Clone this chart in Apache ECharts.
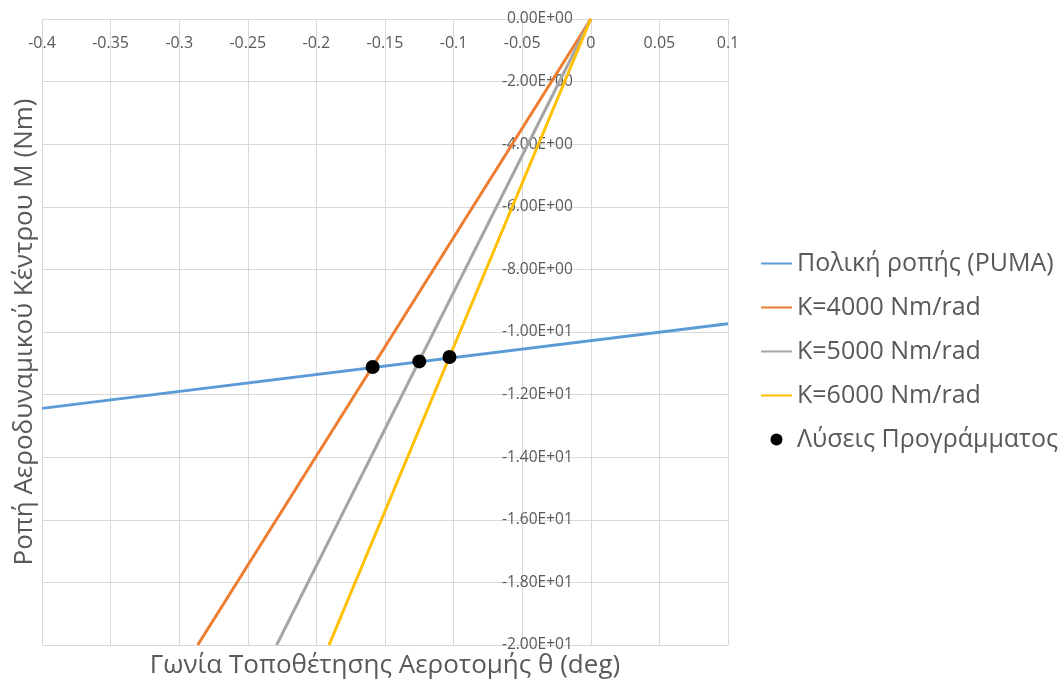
<!DOCTYPE html>
<html>
<head>
<meta charset="utf-8">
<script src="https://cdn.jsdelivr.net/npm/echarts@6/dist/echarts.min.js"></script>
<style>
html,body{margin:0;padding:0;background:#fff;}
#chart{width:1064px;height:681px;}
</style>
</head>
<body>
<div id="chart"></div>
<script>
// Data
const seriesNames = ['Πολική ροπής (PUMA)', 'K=4000 Nm/rad', 'K=5000 Nm/rad', 'K=6000 Nm/rad', 'Λύσεις Προγράμματος'];
const pumaX = [-0.4, 0.1];
const pumaY = [-12.44, -9.74];
const k4000X = [-0.2865, 0];
const k4000Y = [-20, 0];
const k5000X = [-0.2290, 0];
const k5000Y = [-20, 0];
const k6000X = [-0.1908, 0];
const k6000Y = [-20, 0];
const solX = [-0.159, -0.125, -0.103];
const solY = [-11.12, -10.94, -10.80];
const xTitle = 'Γωνία Τοποθέτησης Αεροτομής θ (deg)';
const yTitle = 'Ροπή Αεροδυναμικού Κέντρου Μ (Nm)';

const zip = (xs, ys) => xs.map((x, i) => [x, ys[i]]);
const colors = ['#5B9BD5', '#ED7D31', '#A5A5A5', '#FFC000', '#000000'];
const FONT = '"Open Sans", "Noto Sans", sans-serif';

function sci(v) {
  if (v === 0) return '0.00E+00';
  let e = Math.floor(Math.log10(Math.abs(v)));
  let m = v / Math.pow(10, e);
  if (Math.abs(+m.toFixed(2)) >= 10) { e += 1; m = v / Math.pow(10, e); }
  const s = e < 0 ? '-' : '+';
  const ae = Math.abs(e);
  return m.toFixed(2) + 'E' + s + (ae < 10 ? '0' + ae : '' + ae);
}

const GL = 42, GR = 336, GT = 19, GB = 36, W = 1064;
const XMIN = -0.4, XMAX = 0.1;
const plotW = W - GL - GR;
const yAxisOffset = -plotW * (0 - XMIN) / (XMAX - XMIN);

const chart = echarts.init(document.getElementById('chart'));
const lineSeries = (name, data, color) => ({
  name, type: 'line', data, symbol: 'none', showSymbol: false,
  lineStyle: { color, width: 3 }, itemStyle: { color }, z: 3
});

chart.setOption({
  animation: false,
  color: colors,
  grid: { left: GL, right: GR, top: GT, bottom: GB, containLabel: false, outerBoundsMode: 'none' },
  xAxis: {
    type: 'value', min: XMIN, max: XMAX, interval: 0.05, position: 'top',
    axisLine: { onZero: false, lineStyle: { color: '#d9d9d9', width: 1 } },
    axisTick: { show: false },
    axisLabel: {
      inside: true,
      color: '#595959', fontFamily: FONT, fontSize: 16, margin: 16,
      formatter: v => String(+v.toFixed(2))
    },
    splitLine: { show: true, lineStyle: { color: '#d9d9d9', width: 1 } }
  },
  yAxis: {
    type: 'value', min: -20, max: 0, interval: 2, position: 'left', offset: yAxisOffset,
    axisLine: { onZero: false, lineStyle: { color: '#d9d9d9', width: 1 } },
    axisTick: { show: false },
    axisLabel: {
      color: '#595959', fontFamily: FONT, fontSize: 15.5, margin: 18,
      formatter: v => sci(v)
    },
    splitLine: { show: true, lineStyle: { color: '#d9d9d9', width: 1 } }
  },
  legend: {
    orient: 'vertical', left: 755, top: 245,
    itemWidth: 31, itemHeight: 12, itemGap: 17,
    itemStyle: { opacity: 0 },
    textStyle: { color: '#595959', fontFamily: FONT, fontSize: 25, lineHeight: 27 },
    data: [
      { name: seriesNames[0] }, { name: seriesNames[1] }, { name: seriesNames[2] }, { name: seriesNames[3] },
      { name: seriesNames[4], icon: 'circle', itemStyle: { opacity: 1, color: '#000' } }
    ]
  },
  graphic: [
    { type: 'text', x: 385, y: 666, z: 10,
      style: { text: xTitle, fill: '#595959', font: '26px ' + FONT, align: 'center', verticalAlign: 'middle' } },
    { type: 'text', x: 25, y: 332, rotation: Math.PI / 2, z: 10,
      style: { text: yTitle, fill: '#595959', font: '26px ' + FONT, align: 'center', verticalAlign: 'middle' } }
  ],
  series: [
    lineSeries(seriesNames[0], zip(pumaX, pumaY), colors[0]),
    lineSeries(seriesNames[1], zip(k4000X, k4000Y), colors[1]),
    lineSeries(seriesNames[2], zip(k5000X, k5000Y), colors[2]),
    lineSeries(seriesNames[3], zip(k6000X, k6000Y), colors[3]),
    { name: seriesNames[4], type: 'scatter', data: zip(solX, solY), symbol: 'circle', symbolSize: 14,
      itemStyle: { color: '#000', opacity: 1 }, z: 5 }
  ]
});
</script>
</body>
</html>
